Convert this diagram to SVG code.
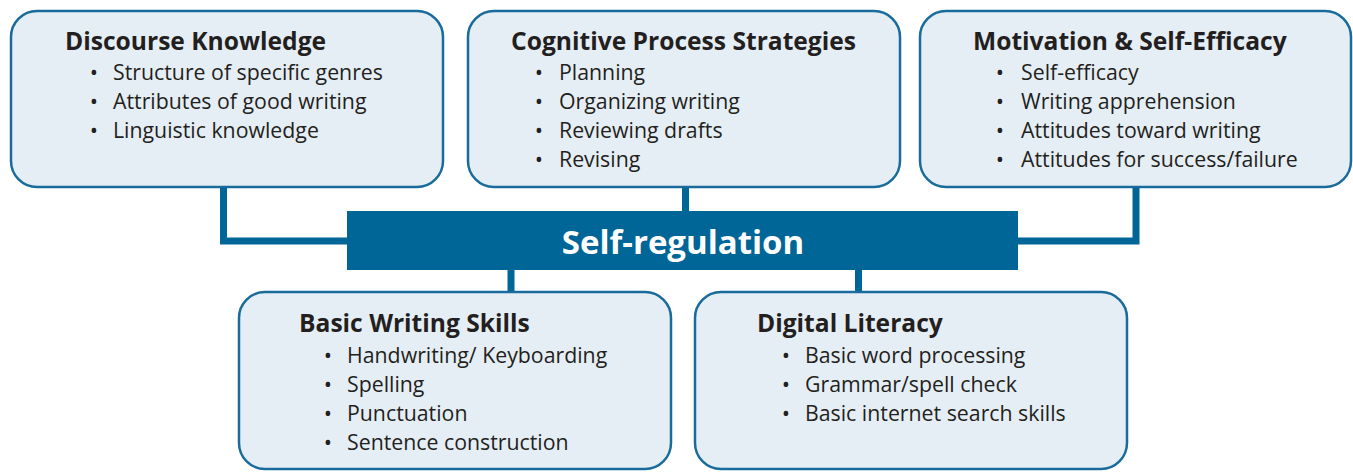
<svg xmlns="http://www.w3.org/2000/svg" width="1353" height="472" viewBox="0 0 1353 472">
<style>
.box{fill:#e6eef5;stroke:#186b9a;stroke-width:2.5}
.title{font-family:"Open Sans",sans-serif;font-weight:700;font-size:24.6px;fill:#231f20}
.item{font-family:"Open Sans",sans-serif;font-size:21.3px;fill:#231f20}
.bul{font-family:"Open Sans",sans-serif;font-size:22px;fill:#231f20;text-anchor:middle}
.conn{fill:none;stroke:#006597;stroke-width:7}
.bar{fill:#006597}
.bartext{font-family:"Open Sans",sans-serif;font-weight:700;font-size:33px;fill:#ffffff}
</style>
<rect width="1353" height="472" fill="#ffffff"/>
<g id="connectors">
<polyline class="conn" points="223.5,187 223.5,241 347,241"/>
<line class="conn" x1="685.5" y1="187" x2="685.5" y2="211"/>
<polyline class="conn" points="1136,187 1136,241 1018,241"/>
<line class="conn" x1="511" y1="270" x2="511" y2="292"/>
<line class="conn" x1="858.5" y1="270" x2="858.5" y2="292"/>
</g>
<g id="discourse">
<rect class="box" x="11" y="11" width="432" height="176" rx="26"/>
<text class="title" x="65" y="50">Discourse Knowledge</text>
<text class="bul" x="94" y="80">•</text><text class="item" x="113" y="80">Structure of specific genres</text>
<text class="bul" x="94" y="109">•</text><text class="item" x="113" y="109">Attributes of good writing</text>
<text class="bul" x="94" y="138">•</text><text class="item" x="113" y="138">Linguistic knowledge</text>
</g>
<g id="cognitive">
<rect class="box" x="468" y="11" width="432" height="176" rx="26"/>
<text class="title" x="511" y="50">Cognitive Process Strategies</text>
<text class="bul" x="539" y="80">•</text><text class="item" x="559" y="80">Planning</text>
<text class="bul" x="539" y="109">•</text><text class="item" x="559" y="109">Organizing writing</text>
<text class="bul" x="539" y="138">•</text><text class="item" x="559" y="138">Reviewing drafts</text>
<text class="bul" x="539" y="167">•</text><text class="item" x="559" y="167">Revising</text>
</g>
<g id="motivation">
<rect class="box" x="920" y="11" width="431" height="176" rx="26"/>
<text class="title" x="973" y="50">Motivation &amp; Self-Efficacy</text>
<text class="bul" x="1000" y="80">•</text><text class="item" x="1021" y="80">Self-efficacy</text>
<text class="bul" x="1000" y="109">•</text><text class="item" x="1021" y="109">Writing apprehension</text>
<text class="bul" x="1000" y="138">•</text><text class="item" x="1021" y="138">Attitudes toward writing</text>
<text class="bul" x="1000" y="167">•</text><text class="item" x="1021" y="167">Attitudes for success/failure</text>
</g>
<g id="selfregulation">
<rect class="bar" x="347" y="211" width="671" height="59"/>
<text class="bartext" x="683" y="254" text-anchor="middle">Self-regulation</text>
</g>
<g id="basic">
<rect class="box" x="239" y="292" width="432" height="177" rx="26"/>
<text class="title" x="299" y="332">Basic Writing Skills</text>
<text class="bul" x="328" y="363">•</text><text class="item" x="347" y="363">Handwriting/ Keyboarding</text>
<text class="bul" x="328" y="392">•</text><text class="item" x="347" y="392">Spelling</text>
<text class="bul" x="328" y="421">•</text><text class="item" x="347" y="421">Punctuation</text>
<text class="bul" x="328" y="450">•</text><text class="item" x="347" y="450">Sentence construction</text>
</g>
<g id="digital">
<rect class="box" x="695" y="292" width="432" height="177" rx="26"/>
<text class="title" x="757" y="332">Digital Literacy</text>
<text class="bul" x="786" y="363">•</text><text class="item" x="805" y="363">Basic word processing</text>
<text class="bul" x="786" y="392">•</text><text class="item" x="805" y="392">Grammar/spell check</text>
<text class="bul" x="786" y="421">•</text><text class="item" x="805" y="421">Basic internet search skills</text>
</g>
</svg>
